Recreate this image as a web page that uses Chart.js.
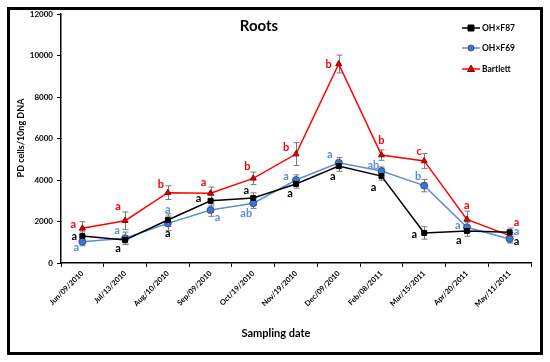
<!DOCTYPE html>
<html>
<head>
<meta charset="utf-8">
<script src="https://cdn.jsdelivr.net/npm/chart.js@4"></script>
<style>
  body { margin: 0; background: #fff; }
  #wrap { width: 550px; height: 362px; }
</style>
</head>
<body>
<div id="wrap"><canvas id="myChart" width="550" height="362"></canvas></div>
<script>
// sampling dates
const dates = ['Jun/09/2010', 'Jul/13/2010', 'Aug/10/2010', 'Sep/09/2010', 'Oct/19/2010', 'Nov/19/2010',
               'Dec/09/2010', 'Feb/08/2011', 'Mar/15/2011', 'Apr/20/2011', 'May/11/2011'];

// PD cells / 10ng DNA
const ohf87 = [1300, 1110, 2070, 3000, 3130, 3810, 4670, 4190, 1450, 1540, 1480];
const ohf69 = [1030, 1190, 1910, 2550, 2880, 4000, 4830, 4430, 3730, 1720, 1160];
const bartlett = [1670, 2040, 3390, 3360, 4080, 5250, 9590, 5200, 4920, 2100, 1320];

// +/- error
const errF87 = [200, 200, 300, 250, 250, 200, 250, 200, 300, 250, 200];
const errF69 = [200, 300, 350, 300, 250, 250, 250, 200, 300, 250, 200];
const errBart = [320, 420, 330, 300, 300, 550, 430, 250, 360, 400, 150];

// significance letters
const letF87 = ['a', 'a', 'a', 'a', 'a', 'a', 'a', 'a', 'a', 'a', 'a'];
const letF69 = ['a', 'a', 'a', 'a', 'ab', 'a', 'a', 'ab', 'b', 'a', 'a'];
const letBart = ['a', 'a', 'b', 'a', 'b', 'b', 'b', 'b', 'c', 'a', 'a'];

const yTicks = [0, 2000, 4000, 6000, 8000, 10000, 12000];

const RED = '#ff0000';
const BLUE = '#5b8fd9';
const BLACK = '#000000';

// letter offsets in px relative to the point (just placement)
const offF87 = [[-8, 0], [-7, 8], [0, 13], [-12, -2], [-7, -8], [-6, 10], [-6, 10], [-8, 11], [-10, 2], [-8, 9], [7, 9]];
const offF69 = [[-6, 6], [-8, -8], [0, -14], [7, 7], [-7, 10], [-10, -4], [-9, -8], [-8, -6], [-6, -9], [-9, -2], [7, -7]];
const offBart = [[-9, -4], [-7, -14], [-7, -8], [-7, -11], [-6, -12], [-10, -7], [-10, 0], [0, -15], [-5, -9], [0, -14], [7, -13]];

const FONT = 'Lato, "Open Sans", sans-serif';

const overlay = {
  id: 'overlay',
  beforeDraw(chart) {
    const c = chart.ctx;
    c.save();
    c.fillStyle = '#fff';
    c.fillRect(0, 0, chart.width, chart.height);
    c.strokeStyle = '#000';
    c.lineWidth = 3;
    c.strokeRect(8.5, 8.5, 533, 345);
    c.restore();
  },
  beforeDatasetsDraw(chart) {
    const c = chart.ctx;
    const y = chart.scales.y;
    const errs = [errF87, errF69, errBart];
    c.save();
    c.strokeStyle = '#7a7a7a';
    c.lineWidth = 1;
    chart.data.datasets.forEach((ds, i) => {
      const meta = chart.getDatasetMeta(i);
      meta.data.forEach((pt, j) => {
        const v = ds.data[j];
        const top = y.getPixelForValue(v + errs[i][j]);
        const bot = y.getPixelForValue(v - errs[i][j]);
        const x = Math.round(pt.x) + 0.5;
        c.beginPath();
        c.moveTo(x, top); c.lineTo(x, bot);
        c.moveTo(x - 3, top); c.lineTo(x + 3, top);
        c.moveTo(x - 3, bot); c.lineTo(x + 3, bot);
        c.stroke();
      });
    });
    c.restore();
  },
  afterDatasetsDraw(chart) {
    const c = chart.ctx;
    const lets = [letF87, letF69, letBart];
    const offs = [offF87, offF69, offBart];
    const cols = [BLACK, BLUE, RED];
    c.save();
    c.font = 'bold 11px ' + FONT;
    c.textAlign = 'center';
    c.textBaseline = 'middle';
    chart.data.datasets.forEach((ds, i) => {
      const meta = chart.getDatasetMeta(i);
      c.fillStyle = cols[i];
      meta.data.forEach((pt, j) => {
        c.fillText(lets[i][j], pt.x + offs[i][j][0], pt.y + offs[i][j][1]);
      });
    });

    // title
    c.fillStyle = '#000';
    c.font = 'bold 15px ' + FONT;
    c.fillText('Roots', 259, 26);

    // axis titles
    c.font = 'bold 11px ' + FONT;
    c.fillText('Sampling date', 276, 333);
    c.save();
    c.translate(21, 138);
    c.rotate(-Math.PI / 2);
    c.font = 'bold 9px ' + FONT;
    c.fillText('PD cells/10ng DNA', 0, 0);
    c.restore();

    // legend
    const names = ['OH×F87', 'OH×F69', 'Bartlett'];
    const ys = [28, 48, 69];
    c.textAlign = 'left';
    c.font = 'bold 8.5px ' + FONT;
    chart.data.datasets.forEach((ds, i) => {
      const yy = ys[i];
      c.strokeStyle = ds.borderColor;
      c.lineWidth = 1.5;
      c.beginPath();
      c.moveTo(462, yy); c.lineTo(480, yy);
      c.stroke();
      c.fillStyle = ds.pointBackgroundColor;
      c.strokeStyle = ds.pointBorderColor;
      c.lineWidth = 1;
      c.beginPath();
      if (i === 0) {
        c.rect(468, yy - 3, 6, 6);
      } else if (i === 1) {
        c.arc(471, yy, 3, 0, Math.PI * 2);
      } else {
        c.moveTo(471, yy - 4); c.lineTo(474.5, yy + 2.5); c.lineTo(467.5, yy + 2.5); c.closePath();
      }
      c.fill(); c.stroke();
      c.fillStyle = '#000';
      c.fillText(names[i], 482, yy + 0.5);
    });
    c.restore();
  }
};

new Chart(document.getElementById('myChart').getContext('2d'), {
  type: 'line',
  data: {
    labels: dates,
    datasets: [
      {
        label: 'OH×F87', data: ohf87,
        borderColor: BLACK, borderWidth: 1.5,
        pointStyle: 'rect', pointRadius: 3.5,
        pointBackgroundColor: BLACK, pointBorderColor: BLACK, pointBorderWidth: 1
      },
      {
        label: 'OH×F69', data: ohf69,
        borderColor: BLUE, borderWidth: 1.5,
        pointStyle: 'circle', pointRadius: 3.5,
        pointBackgroundColor: '#3f74c9', pointBorderColor: '#2f5596', pointBorderWidth: 1
      },
      {
        label: 'Bartlett', data: bartlett,
        borderColor: RED, borderWidth: 1.5,
        pointStyle: 'triangle', pointRadius: 3.5,
        pointBackgroundColor: '#e00000', pointBorderColor: '#900000', pointBorderWidth: 1
      }
    ]
  },
  options: {
    responsive: false,
    animation: false,
    layout: { padding: { top: 14, right: 19, left: 0, bottom: 0 } },
    plugins: {
      legend: { display: false },
      tooltip: { enabled: false }
    },
    scales: {
      x: {
        offset: true,
        grid: { offset: true, drawOnChartArea: false, tickLength: 4, color: '#000', lineWidth: 1 },
        border: { color: '#000', width: 1.5 },
        ticks: {
          minRotation: 45, maxRotation: 45, autoSkip: false,
          color: '#000', font: { family: FONT, size: 7.5, weight: 'bold' }, padding: 2
        },
        afterFit(scale) { scale.height = 99; }
      },
      y: {
        min: 0, max: 12000,
        afterBuildTicks(scale) { scale.ticks = yTicks.map(v => ({ value: v })); },
        grid: { drawOnChartArea: false, tickLength: 4, color: '#000', lineWidth: 1 },
        border: { color: '#000', width: 1.5 },
        ticks: {
          color: '#000', font: { family: FONT, size: 8, weight: 'bold' }, padding: 4,
          callback: (v) => String(v)
        },
        afterFit(scale) { scale.width = 61; }
      }
    }
  },
  plugins: [overlay]
});
</script>
</body>
</html>
